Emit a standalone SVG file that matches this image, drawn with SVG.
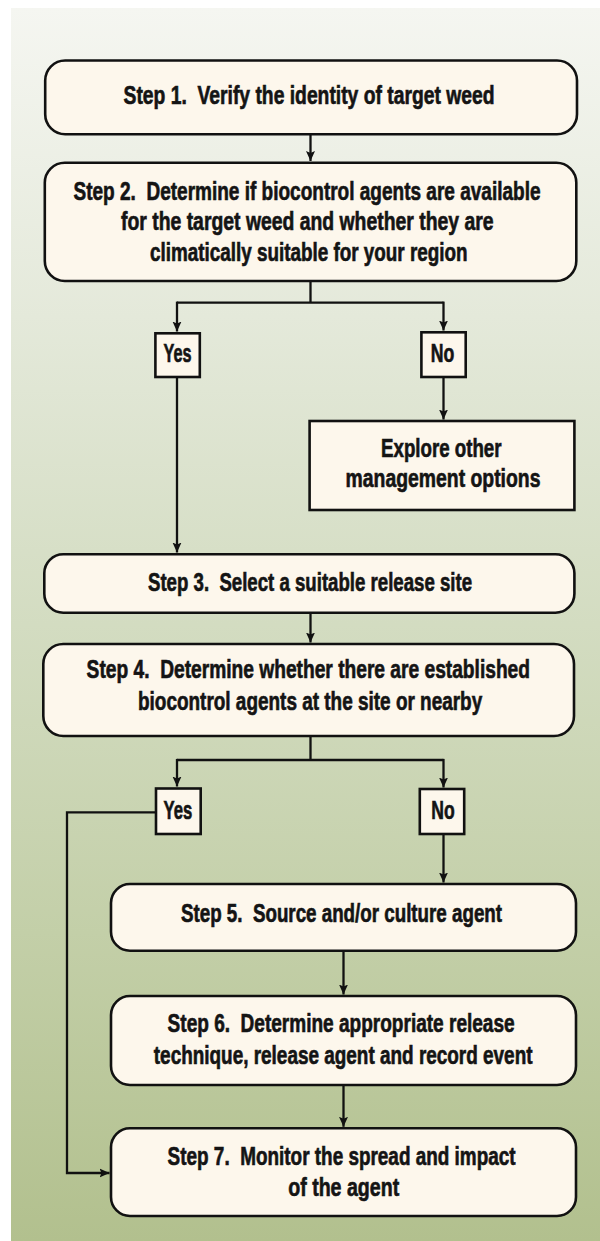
<svg xmlns="http://www.w3.org/2000/svg" width="600" height="1241" viewBox="0 0 600 1241">
<defs>
<linearGradient id="bg" x1="0" y1="0" x2="0" y2="1">
<stop offset="0" stop-color="#f5f6f1"/>
<stop offset="0.25" stop-color="#e4e9da"/>
<stop offset="0.5" stop-color="#d3dcc1"/>
<stop offset="0.75" stop-color="#c3cfa8"/>
<stop offset="1" stop-color="#b2c08e"/>
</linearGradient>
<marker id="ah" markerUnits="userSpaceOnUse" markerWidth="10" markerHeight="10" refX="10" refY="4.5" orient="auto" viewBox="0 0 10 9">
<path d="M0,0 L10,4.5 L0,9 L2,4.5 z" fill="#111"/>
</marker>
</defs>
<style>
.box{fill:#fdf7ec;stroke:#111;stroke-width:2.6}
.t{font-family:"Liberation Sans Narrow","Liberation Sans",Arial,sans-serif;font-weight:bold;font-size:25px;fill:#141414;stroke:#141414;stroke-width:0.65;white-space:pre;text-anchor:middle}
.c{fill:none;stroke:#111;stroke-width:2.3}
</style>
<rect x="11" y="8" width="589" height="1233" fill="url(#bg)"/>
<g id="connectors">
<path class="c" d="M310.5,134 V161" marker-end="url(#ah)"/>
<path class="c" d="M310.5,281 V302.7 M177,302.7 H443.5"/>
<path class="c" d="M177,301.6 V331.5" marker-end="url(#ah)"/>
<path class="c" d="M443.5,301.6 V330.5" marker-end="url(#ah)"/>
<path class="c" d="M443.5,377 V419.5" marker-end="url(#ah)"/>
<path class="c" d="M177,377 V552.5" marker-end="url(#ah)"/>
<path class="c" d="M310.5,612.7 V642.5" marker-end="url(#ah)"/>
<path class="c" d="M310.5,736 V760 M177,760 H443.5"/>
<path class="c" d="M177,758.9 V786.5" marker-end="url(#ah)"/>
<path class="c" d="M443.5,758.9 V787.5" marker-end="url(#ah)"/>
<path class="c" d="M443.5,834 V882.5" marker-end="url(#ah)"/>
<path class="c" d="M156,812.3 H67 V1173 H109.5" marker-end="url(#ah)"/>
<path class="c" d="M343.5,950.7 V994.5" marker-end="url(#ah)"/>
<path class="c" d="M343.5,1085 V1126.8" marker-end="url(#ah)"/>
</g>
<g id="step1">
<rect class="box" x="45.2" y="60.5" width="531.8" height="73.8" rx="20"/>
<text class="t" transform="translate(309,104) scale(0.7,1)" textLength="530" lengthAdjust="spacingAndGlyphs">Step 1.  Verify the identity of target weed</text>
</g>
<g id="step2">
<rect class="box" x="44.8" y="162.7" width="531.5" height="118.3" rx="20"/>
<text class="t" transform="translate(307,199.5) scale(0.7,1)" textLength="667.1" lengthAdjust="spacingAndGlyphs">Step 2.  Determine if biocontrol agents are available</text>
<text class="t" transform="translate(307.25,230) scale(0.7,1)" textLength="532.1" lengthAdjust="spacingAndGlyphs">for the target weed and whether they are</text>
<text class="t" transform="translate(308.75,260.5) scale(0.7,1)" textLength="453.6" lengthAdjust="spacingAndGlyphs">climatically suitable for your region</text>
</g>
<g id="yes1">
<rect class="box" x="155.4" y="333.3" width="44.4" height="43.7"/>
<text class="t" transform="translate(177.5,362) scale(0.7,1)" textLength="40" lengthAdjust="spacingAndGlyphs">Yes</text>
</g>
<g id="no1">
<rect class="box" x="421.4" y="332.3" width="44.3" height="44.7"/>
<text class="t" transform="translate(442.6,362) scale(0.7,1)" textLength="33.6" lengthAdjust="spacingAndGlyphs">No</text>
</g>
<g id="explore">
<rect class="box" x="309.6" y="421" width="264.8" height="89"/>
<text class="t" transform="translate(441.25,456.7) scale(0.7,1)" textLength="172.1" lengthAdjust="spacingAndGlyphs">Explore other</text>
<text class="t" transform="translate(443,487.3) scale(0.7,1)" textLength="278.3" lengthAdjust="spacingAndGlyphs">management options</text>
</g>
<g id="step3">
<rect class="box" x="44.3" y="554.3" width="530.1" height="58.4" rx="19"/>
<text class="t" transform="translate(310,591) scale(0.7,1)" textLength="462.9" lengthAdjust="spacingAndGlyphs">Step 3.  Select a suitable release site</text>
</g>
<g id="step4">
<rect class="box" x="43.3" y="644" width="530.7" height="92" rx="20"/>
<text class="t" transform="translate(308.3,678.3) scale(0.7,1)" textLength="633.4" lengthAdjust="spacingAndGlyphs">Step 4.  Determine whether there are established</text>
<text class="t" transform="translate(310.1,710) scale(0.7,1)" textLength="491.7" lengthAdjust="spacingAndGlyphs">biocontrol agents at the site or nearby</text>
</g>
<g id="yes2">
<rect class="box" x="156" y="788.5" width="44.7" height="45.5"/>
<text class="t" transform="translate(177.9,818.5) scale(0.7,1)" textLength="41.1" lengthAdjust="spacingAndGlyphs">Yes</text>
</g>
<g id="no2">
<rect class="box" x="419.8" y="789" width="44.4" height="45"/>
<text class="t" transform="translate(443,818.5) scale(0.7,1)" textLength="33.4" lengthAdjust="spacingAndGlyphs">No</text>
</g>
<g id="step5">
<rect class="box" x="111" y="884" width="465" height="66.7" rx="19"/>
<text class="t" transform="translate(341.5,921.7) scale(0.7,1)" textLength="458.6" lengthAdjust="spacingAndGlyphs">Step 5.  Source and/or culture agent</text>
</g>
<g id="step6">
<rect class="box" x="111" y="996" width="465" height="89" rx="19"/>
<text class="t" transform="translate(341.1,1032) scale(0.7,1)" textLength="495.7" lengthAdjust="spacingAndGlyphs">Step 6.  Determine appropriate release</text>
<text class="t" transform="translate(343.15,1063.5) scale(0.7,1)" textLength="541" lengthAdjust="spacingAndGlyphs">technique, release agent and record event</text>
</g>
<g id="step7">
<rect class="box" x="111" y="1128.3" width="465" height="87.7" rx="19"/>
<text class="t" transform="translate(341.6,1165) scale(0.7,1)" textLength="497.1" lengthAdjust="spacingAndGlyphs">Step 7.  Monitor the spread and impact</text>
<text class="t" transform="translate(343.7,1196) scale(0.7,1)" textLength="158.6" lengthAdjust="spacingAndGlyphs">of the agent</text>
</g>
</svg>
